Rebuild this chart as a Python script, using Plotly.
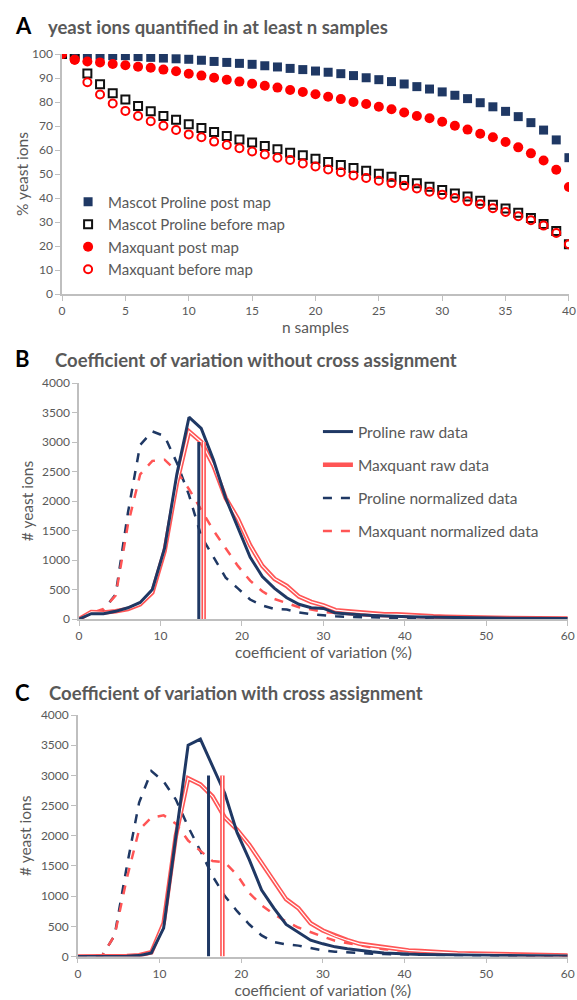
import plotly.graph_objects as go

# ---------------- Panel A data ----------------
n_samples = list(range(41))
mascot_post = [100, 100, 99.7, 99.5, 99.3, 99.3, 98.9, 98.6, 98.3, 98.0, 97.8, 97.4, 96.9, 96.5, 96.1, 95.7,
               95.1, 94.6, 94.0, 93.5, 92.9, 92.4, 91.8, 91.0, 90.1, 89.3, 88.5, 87.5, 86.4, 85.4, 84.2,
               82.8, 81.4, 79.7, 78.0, 76.1, 73.9, 71.4, 68.3, 64.2, 56.8]
mascot_before = [100, 100, 91.9, 87.4, 83.6, 81.0, 78.3, 76.1, 74.2, 72.6, 70.7, 69.2, 67.5, 65.8, 64.4, 63.1,
                 61.7, 60.3, 58.9, 57.8, 56.4, 55.0, 53.8, 52.5, 51.4, 50.1, 48.9, 47.5, 46.1, 44.7, 43.3,
                 41.9, 40.6, 38.9, 37.2, 35.6, 33.9, 31.7, 29.2, 26.3, 20.7]
maxq_post = [100, 97.6, 96.9, 96.5, 95.8, 95.3, 94.7, 94.3, 93.5, 92.8, 91.8, 91.0, 90.1, 89.3, 88.5, 87.6,
             86.8, 86.0, 85.0, 84.2, 83.2, 82.2, 81.2, 80.0, 79.2, 78.0, 77.0, 75.6, 74.2, 73.2, 71.8,
             70.1, 68.5, 66.8, 65.3, 63.3, 61.1, 58.6, 55.6, 51.8, 44.6]
maxq_before = [100, 97.6, 88.2, 83.1, 79.4, 76.3, 74.2, 72.0, 70.1, 68.3, 66.5, 65.3, 63.5, 62.1, 60.7, 59.4,
               58.1, 56.8, 55.8, 54.4, 53.1, 51.9, 50.7, 49.4, 48.3, 47.2, 46.2, 45.1, 44.0, 42.6, 41.4,
               40.0, 38.6, 37.4, 35.7, 34.2, 32.4, 30.7, 28.5, 25.4, 20.7]

# ---------------- Panels B / C data ----------------
cv = [0, 1.5, 3, 4.5, 6, 7.5, 9, 10.5, 12, 13.5, 15, 16.5, 18, 19.5, 21, 22.5, 24, 25.5, 27, 28.5, 30,
      31.5, 33, 34.5, 36, 37.5, 39, 40.5, 42, 43.5, 45, 46.5, 48, 49.5, 51, 52.5, 54, 55.5, 57, 58.5, 60]

b_proline_raw = [0, 90, 90, 130, 190, 280, 500, 1200, 2450, 3420, 3230, 2700, 2050, 1550, 1050, 720, 520, 360,
                 250, 190, 180, 100, 80, 70, 60, 50, 45, 40, 35, 30, 28, 25, 20, 18, 15, 14, 12, 10, 10, 8, 8]
b_maxq_raw = [0, 120, 110, 130, 170, 250, 450, 1150, 2300, 3180, 3000, 2600, 2050, 1700, 1250, 900, 680, 560,
              380, 290, 230, 150, 130, 110, 90, 80, 80, 65, 60, 45, 40, 40, 30, 25, 20, 20, 15, 15, 15, 10, 10]
b_proline_norm = [0, 100, 150, 420, 1800, 2950, 3180, 3100, 2650, 2100, 1400, 1050, 700, 520, 330, 230, 170,
                  160, 110, 80, 60, 45, 35, 30, 25, 20, 15, 12, 10, 10, 8, 6, 5, 5, 4, 3, 3, 2, 2, 2, 2]
b_maxq_norm = [0, 100, 170, 400, 1600, 2450, 2680, 2700, 2500, 2200, 1850, 1500, 1200, 900, 650, 470, 340,
               270, 200, 160, 120, 100, 80, 65, 55, 45, 40, 35, 30, 25, 20, 18, 15, 12, 10, 10, 8, 8, 6, 5, 5]

c_proline_raw = [0, 0, 0, 0, 5, 15, 60, 470, 2000, 3500, 3600, 3150, 2700, 2050, 1600, 1100, 800, 530, 400,
                 270, 210, 160, 130, 100, 80, 60, 45, 40, 35, 30, 28, 25, 22, 20, 18, 15, 12, 10, 10, 8, 8]
c_maxq_raw = [0, 0, 0, 5, 10, 20, 70, 550, 2000, 2950, 2850, 2650, 2300, 2100, 1850, 1550, 1250, 950, 800,
              550, 430, 340, 270, 210, 180, 150, 120, 100, 90, 75, 65, 55, 50, 45, 40, 35, 30, 25, 22, 20, 18]
c_proline_norm = [0, 0, 20, 350, 1500, 2550, 3070, 2900, 2600, 2150, 1750, 1330, 1000, 750, 530, 350, 240,
                  200, 180, 140, 100, 80, 65, 55, 45, 40, 35, 30, 28, 25, 22, 20, 18, 15, 12, 10, 10, 8, 8, 6, 6]
c_maxq_norm = [0, 0, 20, 350, 1300, 2100, 2300, 2340, 2200, 1920, 1750, 1580, 1560, 1350, 1050, 850, 700,
               580, 480, 400, 330, 260, 220, 180, 150, 120, 100, 90, 80, 70, 60, 50, 45, 40, 35, 30, 25, 22,
               20, 18, 15]

# median CV markers (x position, bar height)
b_median_proline = 14.7
b_median_maxq = 15.3
c_median_proline = 16.0
c_median_maxq = 17.7
median_height = 3000

NAVY = "#1F3864"
RED = "#FF0000"
LRED = "#FF5555"
GREY = "#595959"
AXC = "#BFBFBF"
FONT = "Lato"

fig = go.Figure()

# ---- Panel A ----
fig.add_trace(go.Scatter(x=n_samples, y=mascot_post, mode="markers", name="Mascot Proline post map",
                         marker=dict(symbol="square", size=9, color=NAVY), xaxis="x", yaxis="y",
                         legend="legend", legendgroup="a1"))
fig.add_trace(go.Scatter(x=n_samples, y=mascot_before, mode="markers", name="Mascot Proline before map",
                         marker=dict(symbol="square-open", size=8, color="#111111", line=dict(width=2)),
                         xaxis="x", yaxis="y", legend="legend", legendgroup="a2"))
fig.add_trace(go.Scatter(x=n_samples, y=maxq_post, mode="markers", name="Maxquant post map",
                         marker=dict(symbol="circle", size=10, color=RED), xaxis="x", yaxis="y",
                         legend="legend", legendgroup="a3"))
fig.add_trace(go.Scatter(x=n_samples, y=maxq_before, mode="markers", name="Maxquant before map",
                         marker=dict(symbol="circle-open", size=8, color=RED, line=dict(width=2)),
                         xaxis="x", yaxis="y", legend="legend", legendgroup="a4"))


def add_cv_panel(xa, ya, p_raw, m_raw, p_norm, m_norm, med_p, med_m, show):
    fig.add_trace(go.Scatter(x=cv, y=p_norm, mode="lines", name="Proline normalized data",
                             line=dict(color=NAVY, width=2.5, dash="dash"), xaxis=xa, yaxis=ya,
                             legend="legend2", legendgroup="b3", showlegend=show, legendrank=3))
    fig.add_trace(go.Scatter(x=cv, y=m_norm, mode="lines", name="Maxquant normalized data",
                             line=dict(color=LRED, width=2.5, dash="dash"), xaxis=xa, yaxis=ya,
                             legend="legend2", legendgroup="b4", showlegend=show, legendrank=4))
    fig.add_trace(go.Scatter(x=cv, y=m_raw, mode="lines", name="Maxquant raw data",
                             line=dict(color=LRED, width=4.5), xaxis=xa, yaxis=ya,
                             legend="legend2", legendgroup="b2", showlegend=show, legendrank=2))
    fig.add_trace(go.Scatter(x=cv, y=m_raw, mode="lines", name="Maxquant raw data",
                             line=dict(color="white", width=1.2), xaxis=xa, yaxis=ya,
                             showlegend=False, hoverinfo="skip"))
    fig.add_trace(go.Scatter(x=cv, y=p_raw, mode="lines", name="Proline raw data",
                             line=dict(color=NAVY, width=3), xaxis=xa, yaxis=ya,
                             legend="legend2", legendgroup="b1", showlegend=show, legendrank=1))
    fig.add_trace(go.Scatter(x=[med_p, med_p], y=[0, median_height], mode="lines",
                             line=dict(color=NAVY, width=3), xaxis=xa, yaxis=ya, showlegend=False,
                             name="Proline median"))
    fig.add_trace(go.Scatter(x=[med_m, med_m], y=[0, median_height], mode="lines",
                             line=dict(color=LRED, width=4.5), xaxis=xa, yaxis=ya, showlegend=False,
                             name="Maxquant median"))
    fig.add_trace(go.Scatter(x=[med_m, med_m], y=[0, median_height], mode="lines",
                             line=dict(color="white", width=1.2), xaxis=xa, yaxis=ya, showlegend=False,
                             hoverinfo="skip"))


add_cv_panel("x2", "y2", b_proline_raw, b_maxq_raw, b_proline_norm, b_maxq_norm,
             b_median_proline, b_median_maxq, True)
add_cv_panel("x3", "y3", c_proline_raw, c_maxq_raw, c_proline_norm, c_maxq_norm,
             c_median_proline, c_median_maxq, False)

tickfont = dict(family=FONT, size=12, color=GREY)
titlefont = dict(family=FONT, size=15.5, color=GREY)


def xax(domain, anchor, rng, dtick, title):
    return dict(domain=domain, anchor=anchor, range=rng, dtick=dtick, showgrid=False, zeroline=False,
                showline=True, linecolor=AXC, linewidth=1.5, ticks="outside", tickcolor=AXC, ticklen=5,
                tickfont=tickfont, title=dict(text=title, font=titlefont, standoff=4), fixedrange=True,
                automargin=False)


def yax(domain, anchor, rng, dtick, title, standoff):
    return dict(domain=domain, anchor=anchor, range=rng, dtick=dtick, showgrid=False, zeroline=False,
                showline=True, linecolor=AXC, linewidth=1.5, ticks="outside", tickcolor=AXC, ticklen=5,
                tickfont=tickfont, title=dict(text=title, font=titlefont, standoff=standoff),
                fixedrange=True, automargin=False)


fig.update_layout(
    width=577, height=1000, margin=dict(l=0, r=0, t=0, b=0, autoexpand=False),
    paper_bgcolor="white", plot_bgcolor="white",
    font=dict(family=FONT, color=GREY),
    xaxis=xax([0.1075, 0.986], "y", [0, 40], 5, "n samples"),
    yaxis=yax([0.706, 0.946], "x", [0, 100], 10, "% yeast ions", 0),
    xaxis2=xax([0.137, 0.984], "y2", [0, 60], 10, "coefficient of variation (%)"),
    yaxis2=yax([0.381, 0.617], "x2", [0, 4000], 500, "# yeast ions", 5),
    xaxis3=xax([0.135, 0.984], "y3", [0, 60], 10, "coefficient of variation (%)"),
    yaxis3=yax([0.0435, 0.285], "x3", [0, 4000], 500, "# yeast ions", 5),
    legend=dict(x=0.118, y=0.8145, xanchor="left", yanchor="top", bgcolor="rgba(0,0,0,0)",
                font=dict(family=FONT, size=15, color=GREY), traceorder="grouped", tracegroupgap=0,
                itemclick=False),
    legend2=dict(x=0.551, y=0.585, xanchor="left", yanchor="top", bgcolor="rgba(0,0,0,0)",
                 font=dict(family=FONT, size=15.5, color=GREY), traceorder="grouped", tracegroupgap=10,
                 itemclick=False),
    showlegend=True,
)

letters = [("A", 0.022, 0.975), ("B", 0.023, 0.642), ("C", 0.022, 0.308)]
for t, x, y in letters:
    fig.add_annotation(text="<b>%s</b>" % t, x=x, y=y, xref="paper", yref="paper", xanchor="left",
                       yanchor="middle", showarrow=False, font=dict(family=FONT, size=22, color="black"))

titles = [
    ("yeast ions quantified in at least n samples", 0.08, 0.973),
    ("Coefficient of variation without cross assignment", 0.091, 0.640),
    ("Coefficient of variation with cross assignment", 0.082, 0.307),
]
for t, x, y in titles:
    fig.add_annotation(text="<b>%s</b>" % t, x=x, y=y, xref="paper", yref="paper", xanchor="left",
                       yanchor="middle", showarrow=False, font=dict(family=FONT, size=18.5, color=GREY))

fig.write_html("out.html")
